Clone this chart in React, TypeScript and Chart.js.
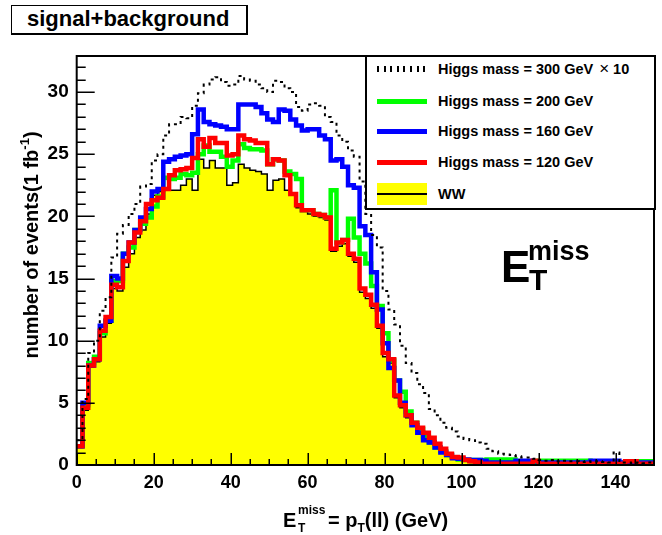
import React, { useEffect, useRef } from "react";
import { Chart, registerables } from "chart.js";

Chart.register(...registerables);

// Histogram binning: 100 bins of 1.5 GeV from 0 to 150 GeV
const BIN_WIDTH = 1.5;
const X_MIN = 0;
const X_MAX = 150;
const Y_MAX = 32.9;

const X_TICKS = [0, 20, 40, 60, 80, 100, 120, 140];
const Y_TICKS = [0, 5, 10, 15, 20, 25, 30];

// WW background (events per bin, 1 fb^-1)
const WW = [
  1.4, 4.4, 7.9, 8.3, 10.3, 11.4, 14.2, 14.0, 15.9, 17.0,
  18.3, 18.9, 20.2, 21.7, 22.0, 22.1, 22.1, 22.1, 22.5, 23.0,
  22.1, 24.6, 23.9, 24.5, 23.9, 23.9, 22.5, 22.7, 24.2, 23.9,
  23.7, 23.6, 23.4, 22.1, 22.9, 23.0, 22.1, 21.7, 20.7, 20.5,
  20.2, 20.0, 19.9, 19.7, 17.2, 17.6, 17.8, 16.8, 16.3, 13.9,
  13.4, 12.6, 11.0, 8.7, 8.2, 5.4, 4.6, 3.8, 3.2, 2.8,
  2.4, 2.0, 1.5, 1.1, 0.7, 0.5, 0.4, 0.3, 0.2, 0.15,
  0.12, 0.1, 0.08, 0.06, 0.05, 0.04, 0.03, 0.02, 0.02, 0.01,
  0, 0, 0, 0, 0, 0, 0, 0, 0, 0,
  0, 0, 0, 0, 0, 0, 0, 0, 0, 0,
];

// WW + Higgs (m_H = 120 GeV)
const H120 = [
  1.5, 4.6, 8.0, 8.5, 10.8, 11.9, 14.5, 14.3, 16.4, 17.9,
  18.7, 19.6, 21.0, 21.3, 21.5, 22.2, 23.3, 23.7, 23.8, 23.9,
  24.7, 26.2, 25.6, 26.3, 25.9, 25.9, 24.9, 25.0, 26.5, 26.2,
  26.1, 25.9, 25.9, 24.2, 24.6, 24.5, 23.3, 21.8, 20.9, 20.5,
  20.5, 20.2, 20.1, 19.9, 17.4, 17.9, 18.1, 17.0, 16.6, 14.2,
  13.7, 12.9, 11.2, 9.0, 8.5, 5.6, 4.8, 4.0, 3.4, 3.0,
  2.6, 2.2, 1.7, 1.3, 0.9, 0.65, 0.6, 0.4, 0.3, 0.2,
  0.1, 0.1, 0.1, 0.1, 0.1, 0.1, 0.1, 0.1, 0.1, 0.35,
  0.1, 0.1, 0.1, 0.1, 0.1, 0.1, 0.1, 0.1, 0.1, 0.1,
  0.1, 0.1, 0.1, 0.1, 0.1, 0.3, 0.3, 0.1, 0.1, 0.1,
];

// WW + Higgs (m_H = 160 GeV)
const H160 = [
  1.5, 5.0, 8.0, 8.5, 11.2, 11.6, 15.2, 15.0, 17.0, 17.9,
  18.9, 19.9, 20.6, 22.0, 22.2, 24.4, 24.6, 24.8, 24.9, 25.0,
  26.6, 28.6, 27.6, 27.4, 27.3, 27.2, 27.0, 27.0, 29.0, 29.0,
  29.0, 28.8, 28.3, 27.8, 27.6, 28.6, 28.5, 27.8, 27.3, 26.9,
  27.0, 27.0, 26.5, 26.2, 24.5, 24.6, 24.0, 22.5, 22.3, 19.2,
  18.5, 15.5, 12.5, 9.8, 7.8, 6.8, 5.0, 4.0, 3.2, 2.6,
  2.0, 1.8, 1.4, 1.0, 0.8, 0.55, 0.5, 0.45, 0.4, 0.4,
  0.35, 0.2, 0.2, 0.2, 0.2, 0.2, 0.35, 0.35, 0.35, 0.3,
  0.2, 0.2, 0.2, 0.2, 0.2, 0.2, 0.2, 0.2, 0.2, 0.35,
  0.35, 0.35, 0.35, 0.35, 0.2, 0.2, 0.2, 0.2, 0.2, 0.2,
];

// WW + Higgs (m_H = 200 GeV)
const H200 = [
  1.5, 4.8, 8.2, 8.7, 10.6, 11.6, 14.8, 14.8, 17.0, 17.5,
  18.9, 19.4, 19.9, 20.8, 21.6, 23.1, 23.0, 23.1, 23.4, 23.3,
  23.5, 25.0, 25.7, 25.2, 25.2, 24.8, 24.0, 24.5, 25.8, 25.5,
  25.4, 25.4, 25.3, 24.2, 24.6, 24.5, 23.6, 23.4, 23.0, 20.5,
  20.5, 20.2, 20.1, 19.9, 22.1, 17.9, 18.1, 19.8, 18.3, 17.0,
  16.2, 14.4, 12.8, 10.6, 8.4, 6.8, 5.9, 4.3, 3.4, 2.9,
  2.3, 1.8, 1.4, 1.1, 0.8, 0.6, 0.45, 0.4, 0.4, 0.4,
  0.4, 0.45, 0.45, 0.45, 0.45, 0.45, 0.25, 0.25, 0.25, 0.2,
  0.35, 0.35, 0.35, 0.35, 0.35, 0.35, 0.35, 0.35, 0.35, 0.2,
  0.2, 0.2, 0.2, 0.2, 0.2, 0.2, 0.2, 0.3, 0.3, 0.3,
];

// WW + Higgs (m_H = 300 GeV), signal scaled by 10
const H300X10 = [
  2.0, 5.3, 9.0, 10.0, 12.4, 13.5, 16.7, 18.6, 19.3, 20.2,
  21.0, 22.4, 22.6, 24.5, 25.0, 26.5, 27.4, 27.4, 28.0, 27.9,
  28.9, 29.9, 30.6, 31.0, 31.2, 30.8, 30.5, 30.6, 31.3, 31.0,
  30.9, 30.6, 30.3, 30.0, 30.9, 30.8, 30.3, 30.0, 28.8, 28.5,
  29.0, 29.1, 28.9, 28.0, 27.6, 26.5, 26.0, 25.3, 24.8, 22.8,
  20.2, 18.5, 17.5, 14.0, 12.5, 11.3, 9.6, 8.2, 7.4, 6.5,
  5.8, 4.5, 4.0, 3.4, 3.0, 2.7, 2.3, 2.1, 2.0, 1.8,
  1.7, 1.3, 1.1, 0.9, 0.85, 0.8, 0.7, 0.6, 0.6, 0.5,
  0.4, 0.35, 0.4, 0.3, 0.35, 0.3, 0.3, 0.25, 0.3, 0.25,
  0.3, 0.25, 0.2, 1.0, 0.2, 0.2, 0.15, 0.2, 0.15, 0.2,
];

const FONT = "'Liberation Sans', Arial, Helvetica, sans-serif";

// Histogram outline: one point per low bin edge, plus the upper edge of the last bin
function histPoints(values: number[]) {
  const pts = values.map((v, i) => ({ x: X_MIN + i * BIN_WIDTH, y: v }));
  pts.push({ x: X_MIN + values.length * BIN_WIDTH, y: values[values.length - 1] });
  return pts;
}

// Frame and inward-pointing tick marks in the usual ROOT style
const framePlugin = {
  id: "rootFrame",
  afterDraw(chart: any) {
    const { ctx, chartArea: a, scales } = chart;
    const xs = scales.x;
    const ys = scales.y;
    ctx.save();
    ctx.strokeStyle = "#000";
    ctx.lineWidth = 1.5;
    ctx.beginPath();
    for (let v = 0; v <= Y_MAX; v += 1) {
      const py = Math.round(ys.getPixelForValue(v)) + 0.25;
      const len = v % 5 === 0 ? 18 : 9;
      ctx.moveTo(a.left, py);
      ctx.lineTo(a.left + len, py);
    }
    for (let v = 0; v <= X_MAX; v += 5) {
      const px = Math.round(xs.getPixelForValue(v)) + 0.25;
      const len = v % 20 === 0 ? 12 : 6;
      ctx.moveTo(px, a.bottom);
      ctx.lineTo(px, a.bottom - len);
    }
    ctx.stroke();
    ctx.lineWidth = 2;
    ctx.strokeRect(a.left, a.top, a.right - a.left, a.bottom - a.top);
    ctx.restore();
  },
};

const LEGEND_ROWS = [
  { label: "Higgs mass = 300 GeV", times: "10", kind: "dotted", color: "#000", y: 69 },
  { label: "Higgs mass = 200 GeV", kind: "line", color: "#00ff00", y: 101 },
  { label: "Higgs mass = 160 GeV", kind: "line", color: "#0000ff", y: 131 },
  { label: "Higgs mass = 120 GeV", kind: "line", color: "#ff0000", y: 162 },
  { label: "WW", kind: "fill", color: "#ffff00", y: 194 },
];

function Txt(props: { x: number; base: number; fs: number; children: any; weight?: string }) {
  const { x, base, fs, children, weight } = props;
  return (
    <div
      style={{
        position: "absolute",
        left: x,
        top: base - 0.8465 * fs,
        fontSize: fs,
        lineHeight: `${fs}px`,
        fontFamily: FONT,
        fontWeight: (weight as any) || "bold",
        whiteSpace: "nowrap",
        color: "#000",
      }}
    >
      {children}
    </div>
  );
}

export default function App() {
  const canvasRef = useRef<HTMLCanvasElement | null>(null);

  useEffect(() => {
    const canvas = canvasRef.current;
    if (!canvas) return;
    const common = {
      pointRadius: 0,
      pointHoverRadius: 0,
      stepped: "before" as const,
      fill: false,
      borderCapStyle: "butt" as const,
      borderJoinStyle: "miter" as const,
      tension: 0,
      clip: 0,
    };
    const chart = new Chart(canvas, {
      type: "line",
      data: {
        datasets: [
          {
            ...common,
            label: "Higgs mass = 300 GeV x 10",
            data: histPoints(H300X10),
            borderColor: "#000",
            borderWidth: 2,
            borderDash: [3, 4],
            order: 0,
          },
          {
            ...common,
            label: "Higgs mass = 120 GeV",
            data: histPoints(H120),
            borderColor: "#ff0000",
            borderWidth: 4.5,
            order: 1,
          },
          {
            ...common,
            label: "Higgs mass = 160 GeV",
            data: histPoints(H160),
            borderColor: "#0000ff",
            borderWidth: 4.5,
            order: 2,
          },
          {
            ...common,
            label: "Higgs mass = 200 GeV",
            data: histPoints(H200),
            borderColor: "#00ff00",
            borderWidth: 4.5,
            order: 3,
          },
          {
            ...common,
            label: "WW",
            data: histPoints(WW),
            borderColor: "#000",
            backgroundColor: "#ffff00",
            borderWidth: 1.5,
            fill: "origin",
            order: 4,
          },
        ],
      },
      options: {
        animation: false,
        responsive: false,
        devicePixelRatio: 1,
        events: [],
        layout: { padding: { left: 0, right: 8, top: 56, bottom: 0 } },
        plugins: {
          legend: { display: false },
          tooltip: { enabled: false },
          title: { display: false },
        },
        scales: {
          x: {
            type: "linear",
            min: X_MIN,
            max: X_MAX,
            grid: { display: false, drawTicks: false },
            border: { display: false },
            ticks: {
              padding: 7,
              color: "#000",
              font: { family: FONT, size: 18, weight: "bold" },
              maxRotation: 0,
            },
            afterBuildTicks: (s: any) => {
              s.ticks = X_TICKS.map((v) => ({ value: v }));
            },
            afterFit: (s: any) => {
              s.height = 70;
            },
          },
          y: {
            type: "linear",
            min: 0,
            max: Y_MAX,
            grid: { display: false, drawTicks: false },
            border: { display: false },
            ticks: {
              padding: 8,
              color: "#000",
              font: { family: FONT, size: 19, weight: "bold" },
            },
            afterBuildTicks: (s: any) => {
              s.ticks = Y_TICKS.map((v) => ({ value: v }));
            },
            afterFit: (s: any) => {
              s.width = 76.7;
            },
          },
        },
      },
      plugins: [framePlugin],
    });
    return () => chart.destroy();
  }, []);

  return (
    <div
      style={{
        position: "absolute",
        left: 0,
        top: 0,
        width: 662,
        height: 535,
        background: "#fff",
        overflow: "hidden",
      }}
    >
      <canvas
        ref={canvasRef}
        width={662}
        height={535}
        style={{ position: "absolute", left: 0, top: 0, width: 662, height: 535 }}
      />

      {/* title pave */}
      <div
        style={{
          position: "absolute",
          left: 11,
          top: 5,
          width: 234,
          height: 27,
          borderTop: "1.5px solid #000",
          borderLeft: "1.5px solid #000",
          borderRight: "2px solid #000",
          borderBottom: "2px solid #000",
          background: "#fff",
        }}
      />
      <Txt x={27} base={27} fs={22}>signal+background</Txt>

      {/* legend */}
      <div
        style={{
          position: "absolute",
          left: 365,
          top: 55,
          width: 287,
          height: 151,
          border: "2px solid #000",
          background: "#fff",
        }}
      />
      {LEGEND_ROWS.map((r) => (
        <React.Fragment key={r.label}>
          {r.kind === "dotted" && (
            <div
              style={{
                position: "absolute",
                left: 377,
                top: r.y - 3,
                width: 50,
                height: 6,
                background:
                  "repeating-linear-gradient(to right, #000 0px, #000 2px, transparent 2px, transparent 6.6px)",
              }}
            />
          )}
          {r.kind === "line" && (
            <div
              style={{
                position: "absolute",
                left: 377,
                top: r.y - 2.5,
                width: 50,
                height: 5,
                background: r.color,
              }}
            />
          )}
          {r.kind === "fill" && (
            <>
              <div
                style={{
                  position: "absolute",
                  left: 377,
                  top: r.y - 11,
                  width: 50,
                  height: 22,
                  background: r.color,
                }}
              />
              <div
                style={{
                  position: "absolute",
                  left: 377,
                  top: r.y - 0.75,
                  width: 50,
                  height: 1.5,
                  background: "#000",
                }}
              />
            </>
          )}
          <Txt x={438} base={r.y + 5} fs={14.5}>
            {r.label}
            {r.times ? (
              <>
                <span style={{ fontWeight: "normal", fontSize: 17, margin: "0 4px 0 6px" }}>×</span>
                {r.times}
              </>
            ) : null}
          </Txt>
        </React.Fragment>
      ))}

      {/* variable label inside the frame */}
      <Txt x={501} base={282} fs={44}>E</Txt>
      <Txt x={528} base={261} fs={27}>miss</Txt>
      <Txt x={529} base={290} fs={30}>T</Txt>

      {/* x-axis title */}
      <Txt x={283} base={527} fs={20}>E</Txt>
      <Txt x={298} base={514} fs={12}>miss</Txt>
      <Txt x={298} base={532} fs={12}>T</Txt>
      <Txt x={328} base={527} fs={20}>
        = p
        <span style={{ fontSize: 12, verticalAlign: -5 }}>T</span>
        (ll) (GeV)
      </Txt>

      {/* y-axis title */}
      <div
        style={{
          position: "absolute",
          left: 25 - 160,
          top: 245 - 12,
          width: 320,
          height: 24,
          lineHeight: "24px",
          textAlign: "center",
          transform: "rotate(-90deg)",
          fontFamily: FONT,
          fontWeight: "bold",
          fontSize: 20,
          whiteSpace: "nowrap",
          color: "#000",
        }}
      >
        number of events(1 fb
        <span style={{ fontSize: 13, verticalAlign: 9 }}>-1</span>)
      </div>
    </div>
  );
}
